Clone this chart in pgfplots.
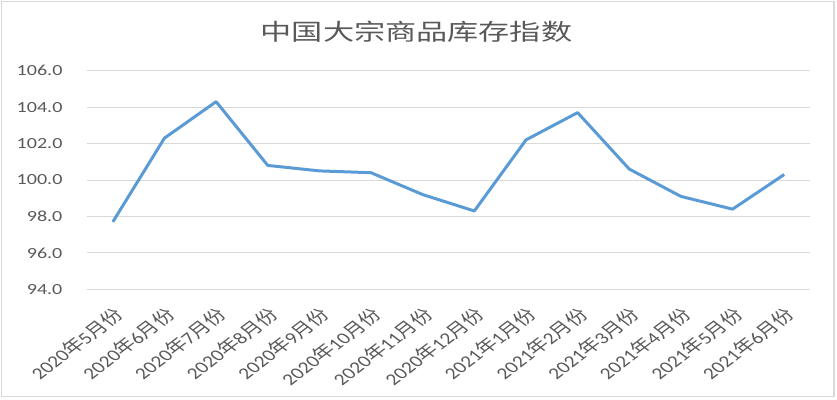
\documentclass[border=0pt]{standalone}
\usepackage{fontspec}
\usepackage{pgfplots}
\pgfplotsset{compat=1.18}
\setmainfont{Carlito}
\newfontfamily\cjk{Noto Sans CJK SC}
\definecolor{lineblue}{HTML}{5B9BD5}
\definecolor{txtgray}{HTML}{595959}
\definecolor{gridgray}{HTML}{D9D9D9}
\begin{document}
\begin{tikzpicture}[x=1bp,y=1bp]
\path[use as bounding box] (0,0) rectangle (837,399);
\draw[gridgray, line width=1.5bp] (1.5,2.5) rectangle (834,397.5);
\node[txtgray, xscale=1.36] at (416.5,367) {\fontsize{23}{25}\selectfont\cjk 中国大宗商品库存指数};
\begin{axis}[
  at={(87bp,109.7bp)}, anchor=south west,
  scale only axis, width=723bp, height=218.6bp,
  xmin=-0.5, xmax=13.5, ymin=94, ymax=106,
  ytick={94,96,...,106},
  /pgf/number format/fixed, /pgf/number format/fixed zerofill, /pgf/number format/precision=1,
  xtick={0,...,13},
  xticklabels={
    2020{\cjk 年}5{\cjk 月份},2020{\cjk 年}6{\cjk 月份},2020{\cjk 年}7{\cjk 月份},
    2020{\cjk 年}8{\cjk 月份},2020{\cjk 年}9{\cjk 月份},2020{\cjk 年}10{\cjk 月份},
    2020{\cjk 年}11{\cjk 月份},2020{\cjk 年}12{\cjk 月份},2021{\cjk 年}1{\cjk 月份},
    2021{\cjk 年}2{\cjk 月份},2021{\cjk 年}3{\cjk 月份},2021{\cjk 年}4{\cjk 月份},
    2021{\cjk 年}5{\cjk 月份},2021{\cjk 年}6{\cjk 月份}},
  axis line style={draw=none},
  major tick length=0pt,
  ymajorgrids, grid style={gridgray, line width=1bp},
  /pgf/number format/assume math mode=true,
  y tick label style={font=\fontsize{15.5}{17}\selectfont, text=txtgray, anchor=east, xshift=-20bp, xscale=1.3},
  x tick label style={font=\fontsize{16.5}{18}\selectfont, text=txtgray, anchor=east, cm={0.93,0.707,-0.93,0.707,(0,0)}, xshift=-9bp, yshift=-19bp},
  clip=false,
]
\addplot[lineblue, line width=3bp, line join=round, mark=none] coordinates {
  (0,97.7) (1,102.3) (2,104.3) (3,100.8) (4,100.5) (5,100.4) (6,99.2)
  (7,98.3) (8,102.2) (9,103.7) (10,100.6) (11,99.1) (12,98.4) (13,100.3)
};
\end{axis}
\end{tikzpicture}
\end{document}
